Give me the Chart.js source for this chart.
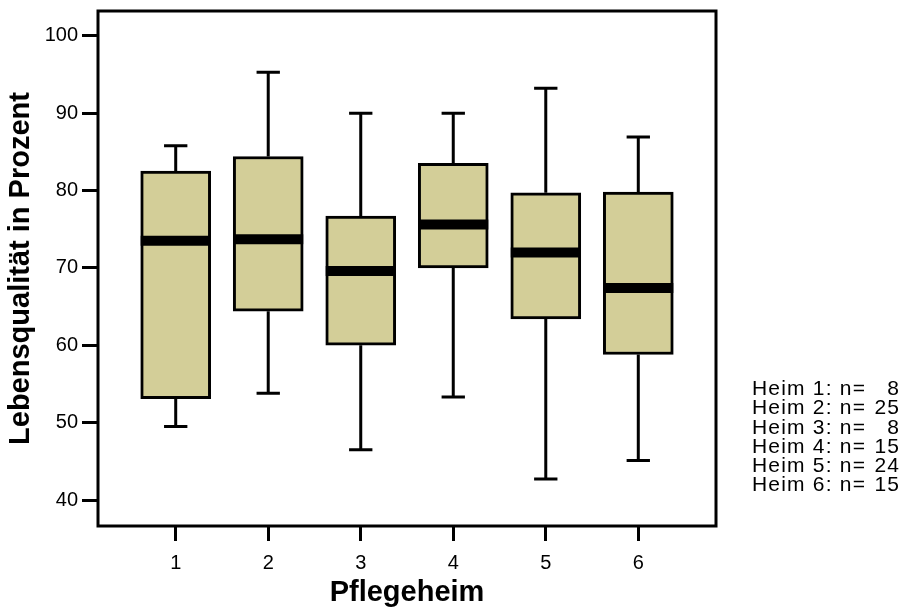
<!DOCTYPE html>
<html>
<head>
<meta charset="utf-8">
<title>Lebensqualität nach Pflegeheim</title>
<script src="https://cdn.jsdelivr.net/npm/chart.js@4/dist/chart.umd.min.js"></script>
<style>
  html, body { margin: 0; padding: 0; background: #fff; }
  #wrap { position: relative; width: 905px; height: 610px; }
  #legend {
    position: absolute; left: 752px; top: 378px;
    font-family: "Liberation Sans", Arial, sans-serif;
    font-size: 21px; letter-spacing: 1.2px; line-height: 19.3px; color: #000; white-space: pre;
  }
  #legend .n { display: inline-block; width: 34px; text-align: right; }
</style>
</head>
<body>
<div id="wrap">
  <canvas id="boxChart" width="905" height="610"></canvas>
  <div id="legend"></div>
</div>
<script>
  // Boxplot values per Pflegeheim
  const homes = ["1", "2", "3", "4", "5", "6"];
  const xPositions = [1, 2, 3, 4, 5, 6];
  const whiskerLow = [49.5, 53.8, 46.5, 53.3, 42.7, 45.1];
  const q1 = [53.1, 64.4, 60.0, 70.0, 63.4, 58.8];
  const median = [73.5, 73.7, 69.6, 75.6, 72.0, 67.4];
  const q3 = [82.5, 84.4, 76.7, 83.5, 79.7, 79.8];
  const whiskerHigh = [85.8, 95.3, 90.0, 90.0, 93.2, 86.9];
  const yTicks = [40, 50, 60, 70, 80, 90, 100];

  const legendNames = ["Heim 1", "Heim 2", "Heim 3", "Heim 4", "Heim 5", "Heim 6"];
  const legendN = [8, 25, 8, 15, 24, 15];

  // n= legend on the right
  const legendEl = document.getElementById("legend");
  legendEl.innerHTML = legendNames.map((name, i) =>
    `<div>${name}: n=<span class="n">${legendN[i]}</span></div>`
  ).join("");

  Chart.defaults.font.family = "'Liberation Sans', Arial, sans-serif";
  Chart.defaults.color = "#000";

  // whiskers, median bars and the frame round the plot
  const boxExtras = {
    id: "boxExtras",
    afterDatasetsDraw(chart) {
      const ctx = chart.ctx;
      const x = chart.scales.x;
      const y = chart.scales.y;
      const meta = chart.getDatasetMeta(0);
      ctx.save();
      ctx.strokeStyle = "#000";
      meta.data.forEach((bar, i) => {
        const cx = x.getPixelForValue(xPositions[i]);
        const half = bar.width / 2;
        const cap = bar.width / 6;
        const yHi = y.getPixelForValue(whiskerHigh[i]);
        const yLo = y.getPixelForValue(whiskerLow[i]);

        ctx.lineWidth = 3;
        ctx.beginPath();
        ctx.moveTo(cx, y.getPixelForValue(q3[i]));
        ctx.lineTo(cx, yHi);
        ctx.moveTo(cx - cap, yHi);
        ctx.lineTo(cx + cap, yHi);
        ctx.moveTo(cx, y.getPixelForValue(q1[i]));
        ctx.lineTo(cx, yLo);
        ctx.moveTo(cx - cap, yLo);
        ctx.lineTo(cx + cap, yLo);
        ctx.stroke();

        const ym = y.getPixelForValue(median[i]);
        ctx.lineWidth = 10;
        ctx.beginPath();
        ctx.moveTo(cx - half, ym);
        ctx.lineTo(cx + half, ym);
        ctx.stroke();
      });

      const a = chart.chartArea;
      ctx.lineWidth = 3;
      ctx.strokeRect(a.left, a.top, a.right - a.left, a.bottom - a.top);
      ctx.restore();
    }
  };

  new Chart(document.getElementById("boxChart"), {
    type: "bar",
    data: {
      datasets: [{
        data: xPositions.map((v, i) => ({ x: v, y: [q1[i], q3[i]] })),
        backgroundColor: "#d3ce98",
        borderColor: "#000",
        borderWidth: 3,
        borderSkipped: false,
        barThickness: 70
      }]
    },
    options: {
      responsive: false,
      animation: false,
      layout: { padding: { left: 0, top: 11, right: 189, bottom: 0 } },
      plugins: {
        legend: { display: false },
        tooltip: { enabled: false }
      },
      scales: {
        x: {
          type: "linear",
          min: 0.16,
          max: 6.84,
          offset: false,
          afterBuildTicks: s => { s.ticks = xPositions.map(v => ({ value: v })); },
          afterFit: s => { s.height = 84; s.paddingLeft = 0; s.paddingRight = 0; },
          ticks: {
            autoSkip: false,
            padding: 10,
            font: { size: 20 },
            callback: (v, i) => homes[i]
          },
          grid: { offset: false, drawOnChartArea: false, tickLength: 15, color: "#000", lineWidth: 3 },
          border: { display: false },
          title: {
            display: true,
            text: "Pflegeheim",
            font: { size: 29, weight: "bold" },
            padding: { top: 0, bottom: 0 }
          }
        },
        y: {
          min: 36.64,
          max: 103.2,
          afterBuildTicks: s => { s.ticks = yTicks.map(v => ({ value: v })); },
          afterFit: s => { s.width = 98; s.paddingTop = 0; s.paddingBottom = 0; },
          ticks: { padding: 4, font: { size: 20 } },
          grid: { drawOnChartArea: false, tickLength: 16, color: "#000", lineWidth: 3 },
          border: { display: false },
          title: {
            display: true,
            text: "Lebensqualität in Prozent",
            font: { size: 29, weight: "bold" },
            padding: { top: 4, bottom: 0 }
          }
        }
      }
    },
    plugins: [boxExtras]
  });
</script>
</body>
</html>
